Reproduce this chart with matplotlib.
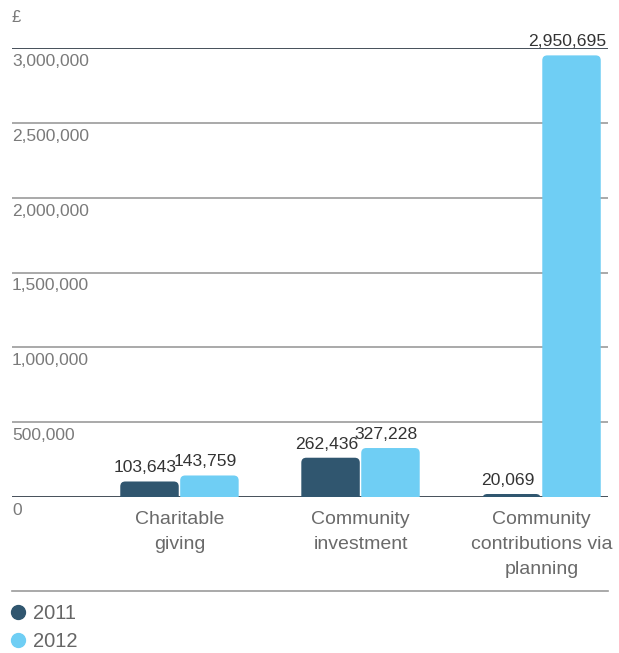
import numpy as np
import matplotlib
matplotlib.use("Agg")
import matplotlib.pyplot as plt
from matplotlib.patches import FancyBboxPatch
from matplotlib.lines import Line2D
from matplotlib.transforms import offset_copy

plt.rcParams['font.family'] = ['Liberation Sans', 'DejaVu Sans']

# community spend, in pounds
categories = ["Charitable\ngiving", "Community\ninvestment", "Community\ncontributions via\nplanning"]
years = ["2011", "2012"]
values_2011 = [103643, 262436, 20069]
values_2012 = [143759, 327228, 2950695]
yticks = [0, 500000, 1000000, 1500000, 2000000, 2500000, 3000000]

dark = "#30566f"
light = "#6fcef4"
colors = [dark, light]

W, H = 619, 653
fig = plt.figure(figsize=(W / 100, H / 100), dpi=100)
# axes box in pixel terms: x 12..608, y 48..497 from top
ax = fig.add_axes([12 / W, (H - 497) / H, 596 / W, 449 / H])
ax.set_ylim(0, 3000000)
ax.set_xlim(-0.925, 2.367)
for s in ax.spines.values():
    s.set_visible(False)
ax.set_xticks([])
ax.set_yticks([])

# grid lines, labels sit just under each line
for t in yticks:
    c = "#26313d" if t in (0, 3000000) else "#9b9b9b"
    ax.axhline(t, color=c, lw=1.2, zorder=1)
    tr = offset_copy(ax.get_yaxis_transform(), fig=fig, x=0, y=-6, units='dots')
    ax.text(0, t, "0" if t == 0 else f"{t:,}", transform=tr, ha='left', va='top',
            fontsize=12.5, color="#7a7a7a", clip_on=False)

fig.text(12 / W, 1 - 18 / H, "£", fontsize=12, color="#7a7a7a", va='center', ha='left')

bw = 0.331
x = np.arange(len(categories))
rx = 5 / 181
ry = 5 / 449 * 3000000
for j, vals in enumerate([values_2011, values_2012]):
    for i, v in enumerate(vals):
        x0 = x[i] - bw + j * bw + 0.004
        w = bw - 0.008
        # box reaches below zero so only the top corners show rounded
        p = FancyBboxPatch((x0, -400000), w, v + 400000,
                           boxstyle=f"round,pad=0,rounding_size={rx}",
                           mutation_aspect=ry / rx, fc=colors[j], ec='none',
                           zorder=2, clip_on=True)
        ax.add_patch(p)
        tr = offset_copy(ax.transData, fig=fig, x=-4, y=6, units='dots')
        ax.text(x0 + w / 2, v, f"{v:,}", transform=tr, ha='center', va='bottom',
                fontsize=12.6, color="#333333")

for i, lab in enumerate(categories):
    tr = offset_copy(ax.transData, fig=fig, x=0, y=-14, units='dots')
    ax.text(x[i], 0, lab, transform=tr, ha='center', va='top', fontsize=14,
            color="#6a6a6a", linespacing=1.62, clip_on=False)

fig.add_artist(Line2D([12 / W, 608 / W], [1 - 591 / H, 1 - 591 / H],
                      color="#9b9b9b", lw=1.2, transform=fig.transFigure))

handles = [Line2D([], [], marker='o', ls='none', color=c, markersize=10) for c in colors]
fig.legend(handles, years, loc='upper left', bbox_to_anchor=(1 / W, 1 - 594 / H),
           frameon=False, fontsize=14.5, handlelength=0.7, handletextpad=0.4,
           labelspacing=0.45, labelcolor="#666666", borderpad=0)

fig.savefig("out.png", dpi=100)
